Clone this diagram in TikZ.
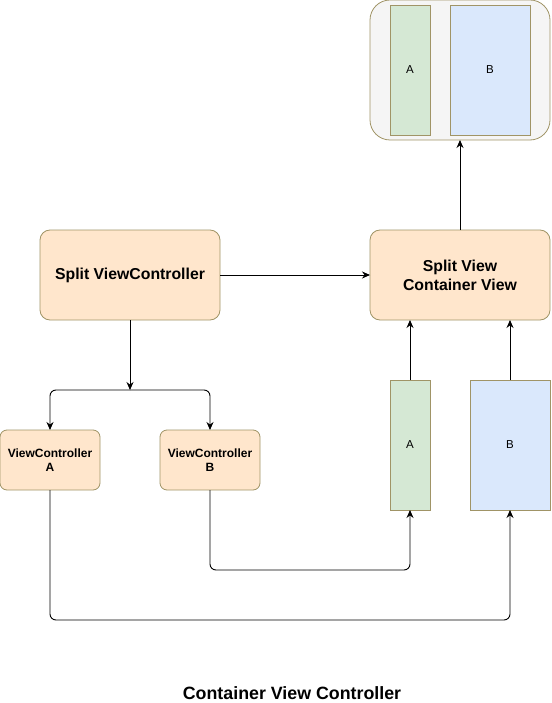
\documentclass[tikz,border=0pt]{standalone}
\usepackage{fontspec}
\setmainfont{Liberation Sans}
\usetikzlibrary{arrows.meta}
\definecolor{olive}{RGB}{160,148,102}
\definecolor{orangefill}{HTML}{FFE6CC}
\definecolor{greenfill}{HTML}{D5E8D4}
\definecolor{bluefill}{HTML}{DAE8FC}
\definecolor{greyfill}{HTML}{F5F5F5}
\tikzset{
  x=1pt, y=-1pt,
  box/.style={draw=olive, line width=0.8pt, inner sep=0pt, outer sep=0pt, align=center},
  vcbox/.style={box, fill=orangefill, rounded corners=10pt, font=\fontsize{15.8}{19}\selectfont\bfseries},
  smallvc/.style={box, fill=orangefill, rounded corners=7pt, font=\fontsize{12}{14.5}\selectfont\bfseries},
  viewA/.style={box, fill=greenfill, font=\fontsize{11.5}{13}\selectfont},
  viewB/.style={box, fill=bluefill, font=\fontsize{11.5}{13}\selectfont},
  arr/.style={draw=black, line width=0.9pt, -{Stealth[length=8pt,width=7pt]}},
  link/.style={arr, rounded corners=6pt},
}
\begin{document}
\begin{tikzpicture}
\useasboundingbox (0,0) rectangle (551,703);
% top container
\node[box, fill=greyfill, rounded corners=20pt, minimum width=180pt, minimum height=140pt] (top) at (460,70) {};
\node[viewA, minimum width=40pt, minimum height=130pt] (topA) at (410,70) {A};
\node[viewB, minimum width=80pt, minimum height=130pt] (topB) at (490,70) {B};
% main nodes
\node[vcbox, minimum width=180pt, minimum height=90pt] (svc) at (130,275) {Split ViewController};
\node[vcbox, minimum width=180pt, minimum height=90pt] (scv) at (460,275) {Split View\\Container View};
\node[smallvc, minimum width=100pt, minimum height=60pt] (vca) at (50,460) {ViewController\\A};
\node[smallvc, minimum width=100pt, minimum height=60pt] (vcb) at (210,460) {ViewController\\B};
\node[viewA, minimum width=40pt, minimum height=130pt] (ra) at (410,445) {A};
\node[viewB, minimum width=80pt, minimum height=130pt] (rb) at (510,445) {B};
% title
\node[font=\fontsize{17.8}{21}\selectfont\bfseries] (title) at (292,693) {Container View Controller};
% connectors
\coordinate (j) at (130,390);
\draw[arr] (svc.east) -- (scv.west);
\draw[arr] (scv.north) -- (top.south);
\draw[arr] (svc.south) -- (j);
\draw[link] (j) -| (vca.north);
\draw[link] (j) -| (vcb.north);
\draw[arr] (ra.north) -- (ra.north |- scv.south);
\draw[arr] (rb.north) -- (rb.north |- scv.south);
\draw[link] (vcb.south) -- ++(0,80) -| (ra.south);
\draw[link] (vca.south) -- ++(0,130) -| (rb.south);
\end{tikzpicture}
\end{document}
